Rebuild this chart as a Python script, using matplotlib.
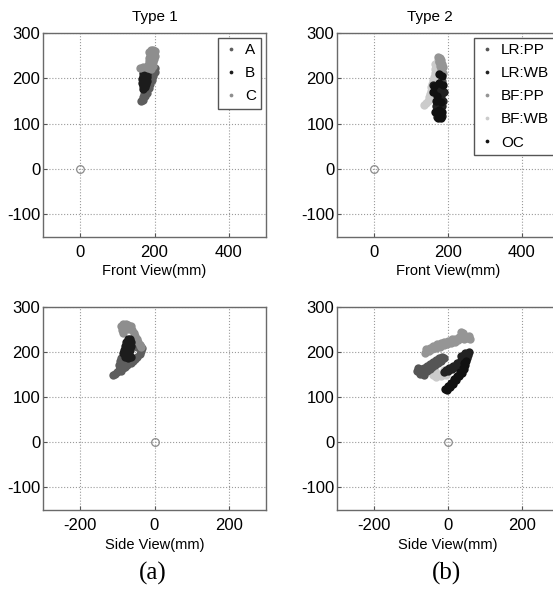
import matplotlib
matplotlib.use("Agg")
from matplotlib import pyplot as plt

plt.rcParams['font.family'] = ['Liberation Sans', 'DejaVu Sans']
plt.rcParams['axes.unicode_minus'] = False

# ---- Type 1, front view (x, y in mm)
t1f_A_x = [165, 170, 168, 175, 172, 180, 178, 185, 182, 189, 186, 193, 190, 197, 194, 200, 198, 202, 196]
t1f_A_y = [150, 152, 158, 160, 165, 168, 174, 178, 184, 188, 194, 196, 202, 205, 210, 214, 220, 222, 226]
t1f_B_x = [170, 176, 181, 168, 174, 180, 167, 173, 179, 166, 172, 178, 168, 174, 170]
t1f_B_y = [212, 214, 210, 205, 204, 203, 198, 196, 195, 190, 188, 188, 182, 180, 176]
t1f_C_x = [190, 195, 200, 185, 192, 198, 188, 195, 200, 186, 193, 199, 184, 190, 197, 182, 188, 195, 170, 176, 162, 183, 190]
t1f_C_y = [262, 262, 260, 258, 255, 255, 250, 248, 250, 244, 242, 243, 238, 236, 235, 230, 228, 228, 224, 224, 222, 222, 220]

# ---- Type 1, side view
t1s_A_x = [-112, -105, -100, -95, -90, -86, -80, -75, -70, -64, -58, -52, -46, -40, -36, -34, -38, -44, -48, -95, -92, -90, -86]
t1s_A_y = [150, 152, 156, 160, 158, 165, 168, 172, 175, 176, 180, 185, 190, 196, 202, 210, 216, 219, 212, 172, 180, 188, 175]
t1s_B_x = [-72, -66, -78, -70, -62, -80, -72, -64, -82, -74, -66, -84, -76, -68, -80, -72, -62]
t1s_B_y = [228, 230, 222, 220, 222, 214, 212, 213, 205, 204, 205, 197, 196, 196, 189, 188, 190]
t1s_C_x = [-90, -84, -77, -70, -64, -88, -80, -72, -60, -86, -56, -52, -48, -44, -40, -36]
t1s_C_y = [258, 262, 263, 261, 257, 250, 252, 252, 250, 243, 243, 236, 229, 222, 216, 212]

# ---- Type 2, front view
t2f_lrpp_x = [165, 170, 175, 160, 168, 172, 178, 175, 182, 185]
t2f_lrpp_y = [195, 190, 200, 175, 170, 160, 150, 140, 175, 195]
t2f_lrwb_x = [160, 165, 170, 175, 172, 180, 178, 185, 180, 170, 185, 175, 168, 188, 186]
t2f_lrwb_y = [185, 178, 182, 175, 165, 160, 130, 140, 120, 115, 118, 125, 140, 170, 150]
t2f_bfpp_x = [172, 178, 182, 175, 185, 178, 186, 180, 187, 182, 176]
t2f_bfpp_y = [247, 244, 240, 238, 232, 228, 224, 218, 212, 206, 236]
t2f_bfwb_x = [135, 140, 145, 148, 150, 153, 155, 158, 160, 162, 164, 166, 168, 170, 172, 165]
t2f_bfwb_y = [142, 146, 150, 158, 165, 172, 180, 188, 196, 204, 212, 220, 228, 234, 240, 232]
t2f_oc_x = [165, 172, 180, 185, 176, 168, 180, 170, 160, 163, 175, 186, 183, 176]
t2f_oc_y = [125, 112, 112, 125, 130, 150, 148, 160, 170, 182, 190, 185, 205, 210]

# ---- Type 2, side view
t2s_lrpp_x = [-85, -82, -76, -74, -66, -66, -58, -58, -50, -50, -42, -40, -34, -32, -26, -24, -18, -16, -10]
t2s_lrpp_y = [158, 165, 152, 162, 150, 164, 158, 170, 163, 174, 168, 178, 172, 182, 176, 186, 180, 190, 186]
t2s_lrwb_x = [-10, -5, 0, 4, 10, 14, 20, 24, 30, 34, 40, 44, 50, 54, 46, 56, 36]
t2s_lrwb_y = [155, 160, 158, 165, 162, 170, 168, 176, 174, 182, 180, 188, 186, 194, 198, 200, 192]
t2s_bfpp_x = [-62, -60, -52, -50, -42, -40, -32, -30, -22, -20, -12, -10, -2, 0, 8, 10, 18, 20, 28, 30, 38, 40, 46, 52, 58, 44, 60, 36]
t2s_bfpp_y = [198, 206, 202, 210, 206, 214, 209, 217, 212, 220, 215, 222, 218, 225, 220, 228, 222, 230, 226, 234, 232, 242, 236, 232, 236, 228, 228, 244]
t2s_bfwb_x = [-40, -32, -28, -20, -12, -5, -36]
t2s_bfwb_y = [150, 145, 152, 148, 160, 150, 158]
t2s_oc_x = [-8, -2, 0, 6, 8, 14, 16, 22, 24, 30, 32, 38, 40, 44, 46, 48, 42]
t2s_oc_y = [118, 115, 124, 122, 132, 130, 140, 138, 148, 146, 156, 154, 164, 162, 172, 180, 176]

col_A = '#5e5e5e'
col_B = '#1c1c1c'
col_C = '#8e8e8e'
col_lrpp = '#555555'
col_lrwb = '#222222'
col_bfpp = '#959595'
col_bfwb = '#cbcbcb'
col_oc = '#111111'

fs = 12
ms = 6

fig = plt.figure(figsize=(5.53, 5.92), dpi=100)

W, H = 553.0, 592.0
def box(l, t, r, b):
    return [l / W, 1 - b / H, (r - l) / W, (b - t) / H]

ax1 = fig.add_axes(box(43, 33, 266, 237))
ax2 = fig.add_axes(box(337, 33, 559, 237))
ax3 = fig.add_axes(box(43, 307, 266, 510))
ax4 = fig.add_axes(box(337, 307, 559, 510))

def style(ax, xlim, xticks):
    ax.set_xlim(xlim)
    ax.set_ylim(-150, 300)
    ax.set_xticks(xticks)
    ax.set_yticks([-100, 0, 100, 200, 300])
    ax.grid(True, linestyle=':', color='#9a9a9a', linewidth=0.8)
    ax.tick_params(direction='in', length=3, labelsize=fs, color='#555555')
    ax.tick_params(axis='x', pad=6)
    ax.tick_params(axis='y', pad=2)
    for s in ax.spines.values():
        s.set_color('#6a6a6a')
        s.set_linewidth(1.0)
    ax.plot([0], [0], 'o', mfc='none', mec='#8a8a8a', ms=5.5, mew=0.9)

def dots(ax, x, y, c, lab):
    ax.plot(x, y, 'o', color=c, ms=ms, mew=0, linestyle='none', label=lab)

def leg(ax, keys):
    h, l = ax.get_legend_handles_labels()
    idx = [l.index(k) for k in keys]
    ax.legend([h[i] for i in idx], keys, loc='upper right', fontsize=11, markerscale=0.45,
              handlelength=1.0, handletextpad=0.4, labelspacing=0.6, borderpad=0.35,
              borderaxespad=0.3, fancybox=False, framealpha=1, edgecolor='#555555')

style(ax1, (-100, 500), [0, 200, 400])
dots(ax1, t1f_A_x, t1f_A_y, col_A, 'A')
dots(ax1, t1f_B_x, t1f_B_y, col_B, 'B')
dots(ax1, t1f_C_x, t1f_C_y, col_C, 'C')
ax1.set_title('Type 1', fontsize=11, pad=9)
ax1.set_xlabel('Front View(mm)', fontsize=10.5, labelpad=3)
leg(ax1, ['A', 'B', 'C'])

style(ax2, (-100, 500), [0, 200, 400])
dots(ax2, t2f_lrpp_x, t2f_lrpp_y, col_lrpp, 'LR:PP')
dots(ax2, t2f_bfwb_x, t2f_bfwb_y, col_bfwb, 'BF:WB')
dots(ax2, t2f_bfpp_x, t2f_bfpp_y, col_bfpp, 'BF:PP')
dots(ax2, t2f_lrwb_x, t2f_lrwb_y, col_lrwb, 'LR:WB')
dots(ax2, t2f_oc_x, t2f_oc_y, col_oc, 'OC')
ax2.set_title('Type 2', fontsize=11, pad=9, x=0.42)
ax2.set_xlabel('Front View(mm)', fontsize=10.5, labelpad=3)
leg(ax2, ['LR:PP', 'LR:WB', 'BF:PP', 'BF:WB', 'OC'])

style(ax3, (-300, 300), [-200, 0, 200])
dots(ax3, t1s_A_x, t1s_A_y, col_A, 'A')
dots(ax3, t1s_C_x, t1s_C_y, col_C, 'C')
dots(ax3, t1s_B_x, t1s_B_y, col_B, 'B')
ax3.set_xlabel('Side View(mm)', fontsize=10.5, labelpad=3)

style(ax4, (-300, 300), [-200, 0, 200])
dots(ax4, t2s_bfwb_x, t2s_bfwb_y, col_bfwb, 'BF:WB')
dots(ax4, t2s_bfpp_x, t2s_bfpp_y, col_bfpp, 'BF:PP')
dots(ax4, t2s_lrpp_x, t2s_lrpp_y, col_lrpp, 'LR:PP')
dots(ax4, t2s_lrwb_x, t2s_lrwb_y, col_lrwb, 'LR:WB')
dots(ax4, t2s_oc_x, t2s_oc_y, col_oc, 'OC')
ax4.set_xlabel('Side View(mm)', fontsize=10.5, labelpad=3)

fig.text(153 / W, 1 - 573 / H, '(a)', ha='center', va='center', fontsize=18, family='Liberation Serif')
fig.text(447 / W, 1 - 573 / H, '(b)', ha='center', va='center', fontsize=18, family='Liberation Serif')

fig.savefig('out.png', dpi=100)
